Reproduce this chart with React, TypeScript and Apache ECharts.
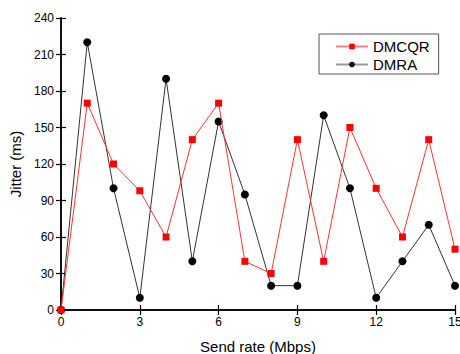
import React, { useEffect, useRef } from "react";
import * as echarts from "echarts";

// Send rate (Mbps) on the x axis
const sendRates = [0, 1, 2, 3, 4, 5, 6, 7, 8, 9, 10, 11, 12, 13, 14, 15];
// Jitter (ms) for each protocol
const dmcqrJitter = [0, 170, 120, 98, 60, 140, 170, 40, 30, 140, 40, 150, 100, 60, 140, 50];
const dmraJitter = [0, 220, 100, 10, 190, 40, 155, 95, 20, 20, 160, 100, 10, 40, 70, 20];

const FONT = "'Liberation Sans', Arial, sans-serif";

export default function App() {
  const ref = useRef<HTMLDivElement>(null);

  useEffect(() => {
    if (!ref.current) return;
    const chart = echarts.init(ref.current, undefined, { renderer: "svg" });
    const axisLine = { show: true, lineStyle: { color: "#000", width: 1.5 } };
    const ticks = { show: true, inside: true, length: 5, lineStyle: { color: "#000", width: 1.2 } };
    const pairs = (ys: number[]) => sendRates.map((x, i) => [x, ys[i]]);

    chart.setOption({
      animation: false,
      backgroundColor: "#fff",
      textStyle: { fontFamily: FONT },
      grid: {
        left: 61,
        right: 5,
        top: 18,
        bottom: 44,
        containLabel: false,
        outerBoundsMode: "none",
      },
      legend: {
        left: 319,
        top: 34,
        orient: "vertical",
        borderColor: "#555",
        borderWidth: 1,
        borderRadius: 0,
        padding: [4, 9, 1, 16],
        itemGap: 1,
        itemWidth: 32,
        itemHeight: 7,
        textStyle: { fontFamily: FONT, fontSize: 15, lineHeight: 17, color: "#000" },
        data: [
          { name: "DMCQR", lineStyle: { color: "#ff8080" } },
          { name: "DMRA", lineStyle: { color: "#999" } },
        ],
      },
      xAxis: [
        {
          type: "value",
          min: 0,
          max: 15,
          interval: 3,
          name: "Send rate (Mbps)",
          nameLocation: "middle",
          nameGap: 29,
          nameTextStyle: { fontFamily: FONT, fontSize: 15, color: "#000" },
          axisLine,
          axisTick: ticks,
          axisLabel: { fontFamily: FONT, fontSize: 12, color: "#000", margin: 6 },
          splitLine: { show: false },
        },
        {
          type: "value",
          position: "top",
          min: 0,
          max: 15,
          interval: 3,
          axisLine,
          axisTick: ticks,
          axisLabel: { show: false },
          splitLine: { show: false },
        },
      ],
      yAxis: [
        {
          type: "value",
          min: 0,
          max: 240,
          interval: 30,
          name: "Jitter (ms)",
          nameLocation: "middle",
          nameGap: 38,
          nameTextStyle: { fontFamily: FONT, fontSize: 15, color: "#000" },
          axisLine,
          axisTick: ticks,
          axisLabel: { fontFamily: FONT, fontSize: 12, color: "#000", margin: 7 },
          splitLine: { show: false },
        },
        {
          type: "value",
          position: "right",
          min: 0,
          max: 240,
          interval: 30,
          axisLine,
          axisTick: ticks,
          axisLabel: { show: false },
          splitLine: { show: false },
        },
      ],
      series: [
        {
          name: "DMCQR",
          type: "line",
          data: pairs(dmcqrJitter),
          symbol: "rect",
          symbolSize: 7,
          itemStyle: { color: "#ff0000" },
          lineStyle: { color: "#ff3333", width: 1 },
          z: 3,
        },
        {
          name: "DMRA",
          type: "line",
          data: pairs(dmraJitter),
          symbol: "circle",
          symbolSize: 8,
          itemStyle: { color: "#000" },
          lineStyle: { color: "#333", width: 1 },
          z: 2,
        },
      ],
    });
    return () => chart.dispose();
  }, []);

  return (
    <div
      ref={ref}
      style={{ position: "fixed", left: 0, top: 0, width: 460, height: 354, background: "#fff" }}
    />
  );
}
